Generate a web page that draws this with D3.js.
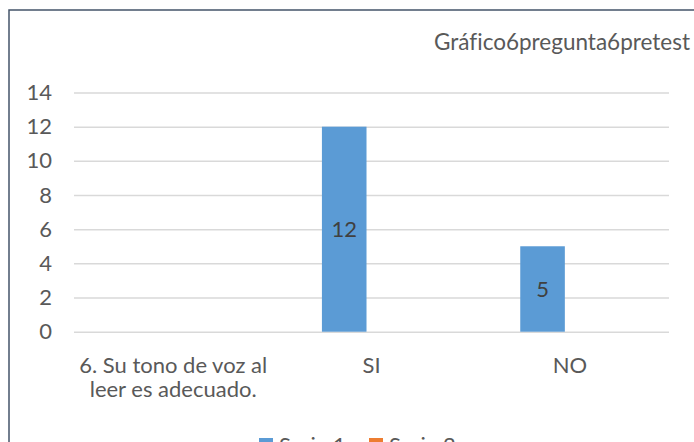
<!DOCTYPE html>
<html>
<head>
  <meta charset="utf-8">
  <title>Gráfico6pregunta6pretest</title>
  <script src="https://d3js.org/d3.v7.min.js"></script>
  <style>
    body { margin: 0; background: #fff; }
    text { font-family: Lato, "Open Sans", sans-serif; font-variant-ligatures: none; }
  </style>
</head>
<body>
  <svg width="694" height="442" id="mainsvg"></svg>
  <script>
    // data
    const categories = ["6. Su tono de voz al leer es adecuado.", "SI", "NO"];
    const seriesNames = ["Serie 1", "Serie 2"];
    const serie1 = [null, 12, 5];
    const serie2 = [null, null, null];
    const yTicks = [0, 2, 4, 6, 8, 10, 12, 14];
    const title = "Gráfico6pregunta6pretest";

    const colors = ["#5B9BD5", "#ED7D31"];
    const textColor = "#595959";
    const font = 'Lato, "Open Sans", sans-serif';

    const svg = d3.select('#mainsvg');
    const width = +svg.attr('width');
    const height = +svg.attr('height');
    const margin = { top: 92.5, right: 25, bottom: 110.3, left: 74 };

    // outer frame (runs off the right and bottom edges)
    svg.append('rect')
      .attr('x', 9).attr('y', 10)
      .attr('width', 720).attr('height', 480)
      .attr('fill', 'none')
      .attr('stroke', '#44546A')
      .attr('stroke-width', 1.5);

    svg.append('text')
      .attr('x', 690).attr('y', 50)
      .attr('text-anchor', 'end')
      .attr('font-size', 22.5)
      .attr('fill', textColor)
      .text(title);

    const yScale = d3.scaleLinear()
      .domain([0, 14])
      .range([height - margin.bottom, margin.top]);

    const xScale = d3.scaleBand()
      .domain(categories)
      .range([margin.left, width - margin.right])
      .paddingInner(0.5)
      .paddingOuter(0.25);

    const xSub = d3.scaleBand()
      .domain(seriesNames)
      .range([0, xScale.bandwidth()])
      .paddingInner(0.183);

    // gridlines + y labels
    const yAxis = d3.axisLeft(yScale)
      .tickValues(yTicks)
      .tickSize(-(width - margin.right - margin.left))
      .tickPadding(22);
    const yg = svg.append('g')
      .attr('transform', `translate(${margin.left},0)`)
      .call(yAxis);
    yg.select('.domain').remove();
    yg.selectAll('.tick line').attr('stroke', '#d9d9d9').attr('stroke-width', 1.5);
    yg.selectAll('.tick text')
      .attr('font-size', 22)
      .attr('fill', textColor)
      .attr('font-family', font);

    // category labels
    const xAxis = d3.axisBottom(xScale).tickSize(0).tickPadding(0);
    const xg = svg.append('g')
      .attr('transform', `translate(0,${height - margin.bottom})`)
      .call(xAxis);
    xg.select('.domain').remove();
    xg.selectAll('.tick text')
      .attr('font-size', 22)
      .attr('fill', textColor)
      .attr('font-family', font)
      .attr('y', 0).attr('dy', 0)
      .each(function (d) {
        const t = d3.select(this);
        const words = d.split(' ');
        t.text(null);
        let line = [];
        let lineNo = 0;
        let tspan = t.append('tspan').attr('x', 0).attr('y', 41);
        words.forEach(w => {
          line.push(w);
          tspan.text(line.join(' '));
          if (tspan.node().getComputedTextLength() > 196 && line.length > 1) {
            line.pop();
            tspan.text(line.join(' '));
            line = [w];
            lineNo++;
            tspan = t.append('tspan').attr('x', 0).attr('y', 41 + lineNo * 24).text(w);
          }
        });
      });

    // bars
    const allSeries = [serie1, serie2];
    allSeries.forEach((vals, si) => {
      const rows = categories.map((c, i) => ({ cat: c, v: vals[i] })).filter(r => r.v != null);
      svg.append('g').selectAll('rect')
        .data(rows)
        .join('rect')
        .attr('x', r => xScale(r.cat) + xSub(seriesNames[si]))
        .attr('width', xSub.bandwidth())
        .attr('y', r => yScale(r.v))
        .attr('height', r => yScale(0) - yScale(r.v))
        .attr('fill', colors[si]);

      svg.append('g').selectAll('text')
        .data(rows)
        .join('text')
        .attr('x', r => xScale(r.cat) + xSub(seriesNames[si]) + xSub.bandwidth() / 2)
        .attr('y', r => (yScale(r.v) + yScale(0)) / 2)
        .attr('dy', '0.35em')
        .attr('text-anchor', 'middle')
        .attr('font-size', 22)
        .attr('fill', '#404040')
        .text(r => r.v);
    });

    // legend (cut by bottom edge like the original)
    const legend = svg.append('g').attr('transform', 'translate(259,438)');
    const legX = d3.scaleOrdinal().domain(seriesNames).range([0, 110]);
    seriesNames.forEach((s, i) => {
      legend.append('rect')
        .attr('x', legX(s)).attr('y', 0)
        .attr('width', 14).attr('height', 14)
        .attr('fill', colors[i]);
      legend.append('text')
        .attr('x', legX(s) + 20).attr('y', 15)
        .attr('font-size', 22)
        .attr('fill', textColor)
        .text(s);
    });
  </script>
</body>
</html>
